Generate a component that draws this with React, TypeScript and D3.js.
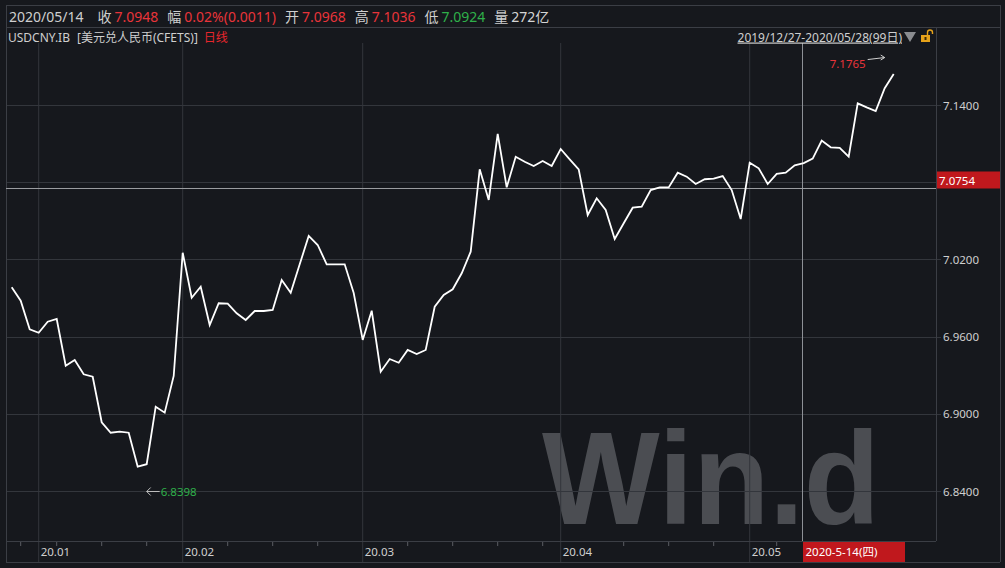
import React, { useEffect, useRef } from 'react';
import * as d3 from 'd3';

// CFETS trading days, 2019/12/27 - 2020/05/28 (99 days)
const dates: string[] = [
  '2019/12/27', '2019/12/30', '2019/12/31',
  '2020/01/02', '2020/01/03', '2020/01/06', '2020/01/07', '2020/01/08', '2020/01/09', '2020/01/10',
  '2020/01/13', '2020/01/14', '2020/01/15', '2020/01/16', '2020/01/17', '2020/01/20', '2020/01/21',
  '2020/01/22', '2020/01/23',
  '2020/02/03', '2020/02/04', '2020/02/05', '2020/02/06', '2020/02/07', '2020/02/10', '2020/02/11',
  '2020/02/12', '2020/02/13', '2020/02/14', '2020/02/17', '2020/02/18', '2020/02/19', '2020/02/20',
  '2020/02/21', '2020/02/24', '2020/02/25', '2020/02/26', '2020/02/27', '2020/02/28',
  '2020/03/02', '2020/03/03', '2020/03/04', '2020/03/05', '2020/03/06', '2020/03/09', '2020/03/10',
  '2020/03/11', '2020/03/12', '2020/03/13', '2020/03/16', '2020/03/17', '2020/03/18', '2020/03/19',
  '2020/03/20', '2020/03/23', '2020/03/24', '2020/03/25', '2020/03/26', '2020/03/27', '2020/03/30',
  '2020/03/31',
  '2020/04/01', '2020/04/02', '2020/04/03', '2020/04/07', '2020/04/08', '2020/04/09', '2020/04/10',
  '2020/04/13', '2020/04/14', '2020/04/15', '2020/04/16', '2020/04/17', '2020/04/20', '2020/04/21',
  '2020/04/22', '2020/04/23', '2020/04/24', '2020/04/27', '2020/04/28', '2020/04/29', '2020/04/30',
  '2020/05/06', '2020/05/07', '2020/05/08', '2020/05/11', '2020/05/12', '2020/05/13', '2020/05/14',
  '2020/05/15', '2020/05/18', '2020/05/19', '2020/05/20', '2020/05/21', '2020/05/22', '2020/05/25',
  '2020/05/26', '2020/05/27', '2020/05/28',
];

// daily close
const closes: number[] = [
  6.9983, 6.9879, 6.9657,
  6.9630, 6.9716, 6.9737, 6.9374, 6.9418, 6.9307, 6.9288,
  6.8934, 6.8853, 6.8861, 6.8853, 6.8589, 6.8608, 6.9055,
  6.9009, 6.9294,
  7.0252, 6.9902, 6.9988, 6.9690, 6.9859, 6.9856, 6.9781,
  6.9729, 6.9799, 6.9799, 6.9807, 7.0040, 6.9941, 7.0162,
  7.0382, 7.0312, 7.0162, 7.0162, 7.0162, 6.9939,
  6.9574, 6.9801, 6.9327, 6.9426, 6.9397, 6.9496, 6.9465,
  6.9496, 6.9832, 6.9923, 6.9968, 7.0092, 7.0260, 7.0900,
  7.0662, 7.1175, 7.0760, 7.0998, 7.0959, 7.0926, 7.0965,
  7.0926,
  7.1058, 7.0978, 7.0900, 7.0545, 7.0675, 7.0584, 7.0359,
  7.0481, 7.0602, 7.0610, 7.0739, 7.0760, 7.0760, 7.0874,
  7.0843, 7.0786, 7.0823, 7.0827, 7.0848, 7.0739, 7.0514,
  7.0952, 7.0908, 7.0786, 7.0864, 7.0874, 7.0931, 7.0948,
  7.0983, 7.1123, 7.1071, 7.1066, 7.0998, 7.1413, 7.1382,
  7.1353, 7.1530, 7.1641,
];

const yTicks: number[] = [7.14, 7.08, 7.02, 6.96, 6.9, 6.84];

const quoteDate = '2020/05/14';
const quoteLabels: string[] = ['收', '幅', '开', '高', '低', '量'];
const quoteValues: string[] = ['7.0948', '0.02%(0.0011)', '7.0968', '7.1036', '7.0924', '272亿'];
const quoteColors: string[] = ['#e8343a', '#e8343a', '#e8343a', '#e8343a', '#2fb04a', '#d4d4d4'];

const code = 'USDCNY.IB';
const secName = '[美元兑人民币(CFETS)]';
const period = '日线';
const rangeText = '2019/12/27-2020/05/28(99日)';

const cursorValue = 7.0754;
const cursorDate = '2020/05/14';
const cursorLabel = '2020-5-14(四)';
const highValue = 7.1765;
const highDate = '2020/05/27';
const lowValue = 6.8398;
const lowDate = '2020/01/20';

const FONT = '"Noto Sans", "Noto Sans CJK SC", sans-serif';

const WindChart: React.FC = () => {
  const svgRef: any = useRef<SVGSVGElement>(null);

  useEffect(() => {
    if (!svgRef.current) return;
    const svg = d3.select(svgRef.current);
    svg.selectAll('*').remove();

    const W = 1005;
    const H = 568;
    const left = 6, right = 1000, plotRight = 936;
    const headTop = 5, headBottom = 27;
    const plotTop = 43, plotBottom = 541, axisBottom = 562;

    const bg = '#16181d';
    const frame = '#3b3e45';
    const grid = '#33363c';
    const txt = '#cfcfcf';

    const parse = d3.timeParse('%Y/%m/%d');
    const x = d3.scalePoint<string>().domain(dates).range([11.7, 893.7]);
    const y = d3.scaleLinear().domain([6.84, 7.14]).range([491, 105]);

    svg.append('rect').attr('width', W).attr('height', H).attr('fill', bg);

    // watermark
    svg.append('text')
      .attr('x', 542).attr('y', 524)
      .attr('font-family', '"Liberation Sans", Arial, sans-serif')
      .attr('font-weight', 'bold')
      .attr('font-size', 132)
      .attr('textLength', 338)
      .attr('lengthAdjust', 'spacingAndGlyphs')
      .attr('fill', '#4b4d52')
      .text('Win.d');

    // month gridlines + minor ticks
    const monthIdx: number[] = [];
    const mondayIdx: number[] = [];
    dates.forEach((d, i) => {
      const dt = parse(d)!;
      if (i > 0 && parse(dates[i - 1])!.getMonth() !== dt.getMonth()) monthIdx.push(i);
      else if (dt.getDay() === 1) mondayIdx.push(i);
    });

    svg.append('g').selectAll('line').data(monthIdx).join('line')
      .attr('x1', i => x(dates[i])!).attr('x2', i => x(dates[i])!)
      .attr('y1', plotTop).attr('y2', axisBottom)
      .attr('stroke', grid).attr('stroke-width', 1);

    svg.append('g').selectAll('line').data(mondayIdx).join('line')
      .attr('x1', i => x(dates[i])!).attr('x2', i => x(dates[i])!)
      .attr('y1', plotBottom).attr('y2', plotBottom + 5)
      .attr('stroke', '#5a5d63').attr('stroke-width', 1);

    const fmtMonth = d3.timeFormat('%y.%m');
    svg.append('g').selectAll('text').data(monthIdx).join('text')
      .attr('x', i => x(dates[i])! + 2).attr('y', 556)
      .attr('font-family', FONT).attr('font-size', 11.5).attr('fill', txt)
      .text(i => fmtMonth(parse(dates[i])!));

    // horizontal gridlines + right axis
    svg.append('g').selectAll('line').data(yTicks).join('line')
      .attr('x1', left).attr('x2', plotRight + 5)
      .attr('y1', d => Math.round(y(d)) + 0.5).attr('y2', d => Math.round(y(d)) + 0.5)
      .attr('stroke', grid);

    svg.append('g').selectAll('text').data(yTicks).join('text')
      .attr('x', 943).attr('y', d => y(d) + 4.5)
      .attr('font-family', FONT).attr('font-size', 11.5).attr('fill', txt)
      .text(d => d.toFixed(4));

    // frame
    const fr = svg.append('g').attr('stroke', frame).attr('fill', 'none');
    fr.append('rect').attr('x', left + 0.5).attr('y', headTop + 0.5)
      .attr('width', right - left).attr('height', headBottom - headTop);
    fr.append('line').attr('x1', left + 0.5).attr('x2', left + 0.5).attr('y1', headBottom).attr('y2', axisBottom);
    fr.append('line').attr('x1', right + 0.5).attr('x2', right + 0.5).attr('y1', headBottom).attr('y2', axisBottom);
    fr.append('line').attr('x1', plotRight + 0.5).attr('x2', plotRight + 0.5).attr('y1', headBottom).attr('y2', plotBottom);
    fr.append('line').attr('x1', left).attr('x2', plotRight).attr('y1', plotBottom + 0.5).attr('y2', plotBottom + 0.5);
    fr.append('line').attr('x1', left).attr('x2', right).attr('y1', axisBottom + 0.5).attr('y2', axisBottom + 0.5);

    // crosshair
    const cx = Math.round(x(cursorDate)!) - 1.5;
    const cy = Math.round(y(cursorValue)) + 0.5;
    svg.append('line').attr('x1', cx).attr('x2', cx).attr('y1', plotTop).attr('y2', plotBottom)
      .attr('stroke', '#8d9096');
    svg.append('line').attr('x1', left).attr('x2', plotRight).attr('y1', cy).attr('y2', cy)
      .attr('stroke', '#9a9ca0');

    // price line
    const line = d3.line<number>()
      .x((_, i) => x(dates[i])!)
      .y(d => y(d));
    svg.append('path').datum(closes)
      .attr('d', line)
      .attr('fill', 'none')
      .attr('stroke', '#ffffff')
      .attr('stroke-width', 1.8)
      .attr('stroke-linejoin', 'miter');

    // cursor value box on right axis
    svg.append('rect').attr('x', plotRight + 1).attr('y', cy - 17).attr('width', right - plotRight - 1).attr('height', 17)
      .attr('fill', '#c0181d');
    svg.append('text').attr('x', 939).attr('y', cy - 4)
      .attr('font-family', FONT).attr('font-size', 11.5).attr('fill', '#ffffff')
      .text(cursorValue.toFixed(4));

    // cursor date box on x axis
    svg.append('rect').attr('x', cx + 0.5).attr('y', plotBottom + 1).attr('width', 102).attr('height', axisBottom - plotBottom - 1)
      .attr('fill', '#c0181d');
    svg.append('text').attr('x', cx + 3).attr('y', 556)
      .attr('font-family', FONT).attr('font-size', 11.5).attr('fill', '#ffffff')
      .text(cursorLabel);

    // high / low markers
    const hx = x(highDate)!;
    const hy = y(highValue);
    const hi = svg.append('g');
    hi.append('text').attr('x', hx - 19).attr('y', hy + 9.5).attr('text-anchor', 'end')
      .attr('font-family', FONT).attr('font-size', 11.5).attr('fill', '#e8343a').text(highValue.toFixed(4));
    hi.append('path').attr('d', `M${hx - 17},${hy + 1.5}L${hx},${hy - 0.5}M${hx - 4},${hy - 3}L${hx},${hy - 0.5}L${hx - 4},${hy + 2}`)
      .attr('stroke', '#cfcfcf').attr('fill', 'none').attr('stroke-width', 1);

    const lx = x(lowDate)!;
    const ly = Math.round(y(lowValue)) + 0.5;
    const lo = svg.append('g');
    lo.append('path').attr('d', `M${lx},${ly}L${lx + 13},${ly}M${lx + 4},${ly - 4}L${lx},${ly}L${lx + 4},${ly + 4}`)
      .attr('stroke', '#bdbdbd').attr('fill', 'none').attr('stroke-width', 1);
    lo.append('text').attr('x', lx + 14).attr('y', ly + 4.5)
      .attr('font-family', FONT).attr('font-size', 11.5).attr('fill', '#2fb04a').text(lowValue.toFixed(4));

    // header quote line
    const head = svg.append('g').attr('font-family', FONT).attr('font-size', 14);
    let px = 9;
    const hyB = 21.5;
    const t0 = head.append('text').attr('x', px).attr('y', hyB).attr('fill', txt).text(quoteDate);
    px += (t0.node() as SVGTextElement).getComputedTextLength() + 14;
    quoteLabels.forEach((lab, i) => {
      const a = head.append('text').attr('x', px).attr('y', hyB).attr('fill', txt).text(lab);
      px += (a.node() as SVGTextElement).getComputedTextLength() + 3;
      const b = head.append('text').attr('x', px).attr('y', hyB).attr('fill', quoteColors[i]).text(quoteValues[i]);
      px += (b.node() as SVGTextElement).getComputedTextLength() + 9;
    });

    // second line
    const sub = svg.append('g').attr('font-family', FONT).attr('font-size', 12);
    let sx = 8;
    const syB = 41.5;
    const s1 = sub.append('text').attr('x', sx).attr('y', syB).attr('fill', txt).text(code);
    sx += (s1.node() as SVGTextElement).getComputedTextLength() + 7;
    const s2 = sub.append('text').attr('x', sx).attr('y', syB).attr('fill', txt).text(secName);
    sx += (s2.node() as SVGTextElement).getComputedTextLength() + 6;
    sub.append('text').attr('x', sx).attr('y', syB).attr('fill', '#e8262c').text(period);

    // range selector
    sub.append('text').attr('x', 902).attr('y', syB).attr('text-anchor', 'end')
      .attr('fill', txt).attr('text-decoration', 'underline').text(rangeText);
    svg.append('path').attr('d', 'M904,32L916,32L910,42Z').attr('fill', '#8a8c90');
    const lock = svg.append('g');
    lock.append('rect').attr('x', 921).attr('y', 35).attr('width', 9).attr('height', 7).attr('fill', '#e6a21a');
    lock.append('rect').attr('x', 924.5).attr('y', 37).attr('width', 2).attr('height', 3).attr('fill', '#3a2a05');
    lock.append('path').attr('d', 'M927.5,35V32.5a2.5,2.5 0 0 1 5,0V34')
      .attr('stroke', '#e6a21a').attr('fill', 'none').attr('stroke-width', 1.4);
  }, []);

  return (
    <svg
      ref={svgRef}
      width={1005}
      height={568}
      style={{ position: 'fixed', left: 0, top: 0, display: 'block' }}
    ></svg>
  );
};

const App = () => {
  return <WindChart />;
};

export default App;
